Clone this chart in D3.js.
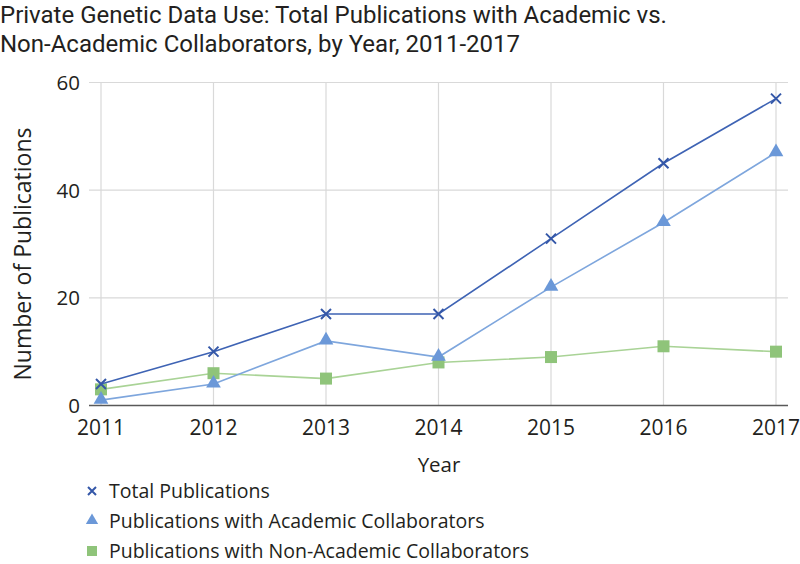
<!DOCTYPE html>
<html>
<head>
<meta charset="utf-8">
<script src="https://cdn.jsdelivr.net/npm/d3@7"></script>
<style>
  body { margin: 0; background: #fff; }
  svg { display: block; font-family: "Open Sans", "Noto Sans", sans-serif; }
</style>
</head>
<body>
<div id="chart"></div>
<script>
const years = [2011, 2012, 2013, 2014, 2015, 2016, 2017];
const totalPubs = [4, 10, 17, 17, 31, 45, 57];
const academicPubs = [1, 4, 12, 9, 22, 34, 47];
const nonAcademicPubs = [3, 6, 5, 8, 9, 11, 10];
const yTicks = [0, 20, 40, 60];

const series = [
  { name: "Total Publications", values: totalPubs, color: "#3457a8", line: "#3e63b4", shape: "x" },
  { name: "Publications with Academic Collaborators", values: academicPubs, color: "#6b98d8", line: "#7ea6dd", shape: "tri" },
  { name: "Publications with Non-Academic Collaborators", values: nonAcademicPubs, color: "#8fc47a", line: "#a9d396", shape: "sq" },
];

const width = 800, height = 564;
const svg = d3.select("#chart").append("svg")
  .attr("width", width).attr("height", height);

const x = d3.scalePoint().domain(years).range([101, 776]);
const y = d3.scaleLinear().domain([0, 60]).range([405.5, 82.5]);
const gridLeft = 89, gridRight = 788;

// title (Roboto: tighter line box so the two lines fit like the reference)
const titleLines = [
  "Private Genetic Data Use: Total Publications with Academic vs.",
  "Non-Academic Collaborators, by Year, 2011-2017",
];
svg.append("g").selectAll("text")
  .data(titleLines)
  .join("text")
  .attr("x", 0).attr("y", (d, i) => 22.5 + i * 29)
  .attr("font-family", "Roboto, 'Open Sans', sans-serif")
  .attr("font-size", 24).attr("fill", "#231f20")
  .text(d => d);

// gridlines
svg.append("g").selectAll("line.h")
  .data(yTicks.filter(d => d > 0))
  .join("line")
  .attr("x1", gridLeft).attr("x2", gridRight)
  .attr("y1", d => y(d)).attr("y2", d => y(d))
  .attr("stroke", "#d9d9d9").attr("stroke-width", 1.2);

svg.append("g").selectAll("line.v")
  .data(years)
  .join("line")
  .attr("x1", d => x(d)).attr("x2", d => x(d))
  .attr("y1", y(60)).attr("y2", y(0))
  .attr("stroke", "#d9d9d9").attr("stroke-width", 1.2);

// x axis baseline
svg.append("line")
  .attr("x1", gridLeft).attr("x2", gridRight)
  .attr("y1", y(0)).attr("y2", y(0))
  .attr("stroke", "#595959").attr("stroke-width", 1.3);

// y tick labels
svg.append("g").selectAll("text")
  .data(yTicks)
  .join("text")
  .attr("x", 80).attr("y", d => y(d) + 7.5)
  .attr("text-anchor", "end")
  .attr("font-size", 20.5).attr("fill", "#231f20")
  .text(d => d);

// x tick labels
svg.append("g").selectAll("text")
  .data(years)
  .join("text")
  .attr("x", d => x(d)).attr("y", 435)
  .attr("text-anchor", "middle")
  .attr("font-size", 21).attr("fill", "#231f20")
  .text(d => d);

// axis titles
svg.append("text")
  .attr("x", 439).attr("y", 472)
  .attr("text-anchor", "middle")
  .attr("font-size", 20.5).attr("fill", "#231f20")
  .text("Year");

svg.append("text")
  .attr("transform", `translate(31,254) rotate(-90)`)
  .attr("text-anchor", "middle")
  .attr("font-size", 23).attr("fill", "#231f20")
  .text("Number of Publications");

function drawMarker(g, shape, color, s) {
  if (shape === "x") {
    g.append("path")
      .attr("d", `M${-s},${-s}L${s},${s}M${-s},${s}L${s},${-s}`)
      .attr("stroke", color).attr("stroke-width", 2).attr("fill", "none");
  } else if (shape === "tri") {
    g.append("path")
      .attr("d", d3.symbol(d3.symbolTriangle, s * s * 2.6)())
      .attr("transform", `translate(0,${-s * 0.1})`)
      .attr("fill", color);
  } else {
    g.append("rect")
      .attr("x", -s).attr("y", -s).attr("width", 2 * s).attr("height", 2 * s)
      .attr("fill", color);
  }
}

const line = d3.line().x((d, i) => x(years[i])).y(d => y(d));

// draw in reverse so total is on top
[...series].reverse().forEach(s => {
  svg.append("path")
    .datum(s.values)
    .attr("d", line)
    .attr("fill", "none")
    .attr("stroke", s.line)
    .attr("stroke-width", 1.6);
  const pts = svg.append("g").selectAll("g")
    .data(s.values)
    .join("g")
    .attr("transform", (d, i) => `translate(${x(years[i])},${y(d)})`);
  pts.each(function () {
    drawMarker(d3.select(this), s.shape, s.color, s.shape === "x" ? 5 : 6);
  });
});

// legend
const legend = svg.append("g").selectAll("g")
  .data(series)
  .join("g")
  .attr("transform", (d, i) => `translate(92,${491 + i * 30})`);
legend.each(function (d) {
  drawMarker(d3.select(this), d.shape, d.color, d.shape === "x" ? 4 : 5);
});
legend.append("text")
  .attr("x", 17).attr("y", 7)
  .attr("font-size", 19.5).attr("fill", "#231f20")
  .text(d => d.name);
</script>
</body>
</html>
